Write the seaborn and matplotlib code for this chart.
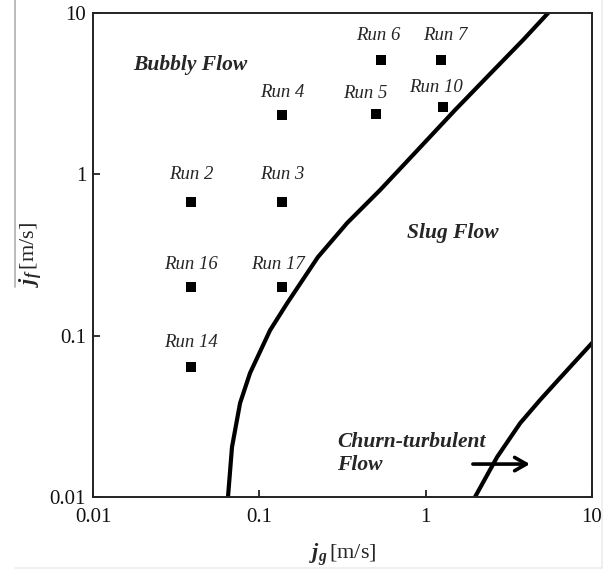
import numpy as np
import pandas as pd
import matplotlib
matplotlib.use("Agg")
import matplotlib.pyplot as plt
from matplotlib.lines import Line2D
import seaborn as sns

# ---- data ----
run_names = ["Run 2", "Run 3", "Run 4", "Run 5", "Run 6", "Run 7", "Run 10", "Run 14", "Run 16", "Run 17"]
run_jg = [0.039, 0.137, 0.137, 0.50, 0.54, 1.24, 1.27, 0.039, 0.039, 0.137]
run_jf = [0.67, 0.67, 2.33, 2.37, 5.1, 5.1, 2.6, 0.064, 0.20, 0.20]

bubbly_slug_jg = [0.0648, 0.0685, 0.0766, 0.0879, 0.116, 0.147, 0.225, 0.337, 0.532, 0.817, 1.50, 2.47, 3.85, 5.45]
bubbly_slug_jf = [0.010, 0.0204, 0.0382, 0.0586, 0.108, 0.159, 0.307, 0.499, 0.799, 1.28, 2.50, 4.25, 6.80, 10.0]

slug_churn_jg = [1.98, 2.69, 3.70, 4.88, 6.25, 7.08, 10.0]
slug_churn_jf = [0.010, 0.0177, 0.0287, 0.040, 0.053, 0.061, 0.090]

x_ticks = [0.01, 0.1, 1, 10]
x_tick_labels = ["0.01", "0.1", "1", "10"]
y_ticks = [0.01, 0.1, 1, 10]
y_tick_labels = ["0.01", "0.1", "1", "10"]

# label offsets in pixels (style, not data)
label_offsets = {"Run 2": (0, 28), "Run 3": (0, 28), "Run 4": (0, 23), "Run 5": (-10, 20),
                 "Run 6": (-3, 25), "Run 7": (4, 25), "Run 10": (-7, 20), "Run 14": (0, 24),
                 "Run 16": (0, 23), "Run 17": (-4, 23)}

sns.set_theme(style="ticks")
plt.rcParams["font.family"] = ["Liberation Serif", "DejaVu Serif"]
plt.rcParams["mathtext.fontset"] = "custom"
plt.rcParams["mathtext.rm"] = "Liberation Serif"
plt.rcParams["mathtext.it"] = "Liberation Serif:italic:bold"
plt.rcParams["mathtext.bf"] = "Liberation Serif:bold"

fig = plt.figure(figsize=(6.16, 5.73), dpi=100)
ax = fig.add_axes([93/616, 1-497/573, (592-93)/616, (497-13)/573])

runs = pd.DataFrame({"name": run_names, "jg": run_jg, "jf": run_jf})
c1 = pd.DataFrame({"jg": bubbly_slug_jg, "jf": bubbly_slug_jf})
c2 = pd.DataFrame({"jg": slug_churn_jg, "jf": slug_churn_jf})

ax.set_xscale("log")
ax.set_yscale("log")

sns.lineplot(data=c1, x="jg", y="jf", sort=False, estimator=None, color="black", lw=3.0, ax=ax)
sns.lineplot(data=c2, x="jg", y="jf", sort=False, estimator=None, color="black", lw=3.0, ax=ax)
sns.scatterplot(data=runs, x="jg", y="jf", marker="s", s=45, color="black", edgecolor="black", linewidth=0, ax=ax, zorder=5)

for nm, xv, yv in zip(run_names, run_jg, run_jf):
    dx, dy = label_offsets[nm]
    ax.annotate(nm, (xv, yv), xytext=(dx, dy), textcoords="offset pixels",
                ha="center", va="center", fontsize=13.5, fontstyle="italic")

bold_kw = dict(fontsize=15.5, fontstyle="italic", fontweight="bold", va="center")
ax.text(0.0174, 4.76, "Bubbly Flow", ha="left", **bold_kw)
ax.text(1.46, 0.433, "Slug Flow", ha="center", **bold_kw)
ax.text(0.293, 0.0219, "Churn-turbulent", ha="left", **bold_kw)
ax.text(0.293, 0.0158, "Flow", ha="left", **bold_kw)
ax.annotate("", xy=(4.4, 0.016), xytext=(1.85, 0.016),
            arrowprops=dict(arrowstyle="->,head_length=0.7,head_width=0.4", lw=2.6, color="black"))

ax.set_xlim(0.01, 10)
ax.set_ylim(0.01, 10)
ax.set_xticks(x_ticks)
ax.set_xticklabels(x_tick_labels)
ax.set_yticks(y_ticks)
ax.set_yticklabels(y_tick_labels)
ax.minorticks_off()
ax.tick_params(axis="both", which="major", direction="in", length=5, width=1.2,
               labelsize=15, colors="#111111")
ax.tick_params(axis="x", pad=8)
ax.tick_params(axis="y", pad=5)
for sp in ax.spines.values():
    sp.set_visible(True)
    sp.set_linewidth(1.4)
    sp.set_color("#222222")

ax.set_xlabel(r"$j_g\,$[m/s]", fontsize=16, labelpad=10)
ax.set_ylabel(r"$j_f\,$[m/s]", fontsize=16, labelpad=4)

# faint scan-border lines
fig.add_artist(Line2D([15/616, 15/616], [1, 1-287/573], color="#b0b0b0", lw=1.2))
fig.add_artist(Line2D([15/616, 602/616], [1-568/573, 1-568/573], color="#ececec", lw=1.2))
fig.add_artist(Line2D([602/616, 602/616], [1, 1-568/573], color="#ececec", lw=1.2))

fig.savefig("out.png", dpi=100)
